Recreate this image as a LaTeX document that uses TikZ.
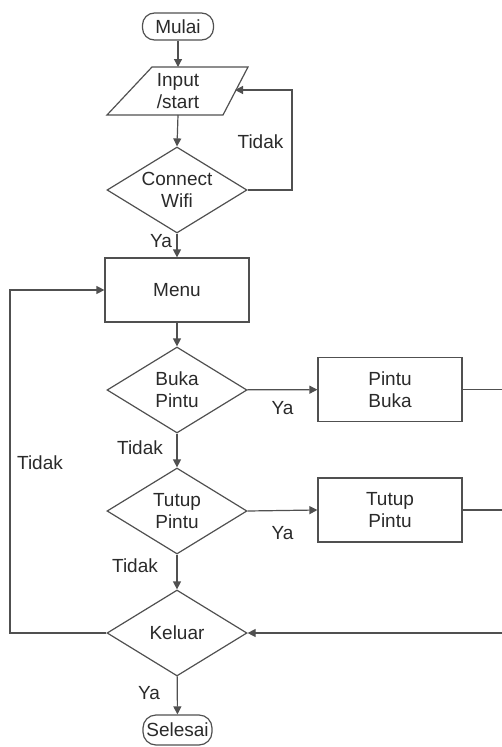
\documentclass[tikz,border=0pt]{standalone}
\usepackage{fontspec}
\setmainfont{Liberation Sans}
\usetikzlibrary{shapes.geometric,arrows.meta}
\definecolor{txt}{HTML}{2A2A2A}
\definecolor{ln}{HTML}{505050}
\begin{document}
\begin{tikzpicture}[x=1pt,y=-1pt,
 every node/.style={font=\fontsize{19}{22}\selectfont, text=txt},
 line/.style={draw=ln, line width=1.2pt},
 arr/.style={line, -{Triangle[length=8pt,width=8pt]}},
 term/.style={draw=ln, line width=1.2pt, rounded corners=12pt, minimum width=71pt, minimum height=27pt, inner sep=0pt},
 proc/.style={draw=ln, line width=1.2pt, minimum width=144pt, minimum height=64pt, inner sep=0pt, align=center},
 dec/.style={draw=ln, line width=1.2pt, diamond, aspect=1.63, minimum width=140pt, minimum height=86pt, inner sep=0pt, align=center},
 lbl/.style={inner sep=0pt}]
\useasboundingbox (0,0) rectangle (502,747);
% nodes
\node[term] (start) at (178,26.5) {Mulai};
\draw[line] (107,115) -- (152,67) -- (248,67) -- (223,115) -- cycle;
\node[align=center, inner sep=0pt] (inp) at (178,91) {Input\\/start};
\coordinate (inTop) at (178,67);
\coordinate (inBot) at (178,115);
\coordinate (inRight) at (235,90);
\node[dec] (wifi) at (177,190) {Connect\\Wifi};
\node[proc] (menu) at (177,290) {Menu};
\node[dec] (buka) at (177,390) {Buka\\Pintu};
\node[proc] (pbuka) at (390,389.5) {Pintu\\Buka};
\node[dec] (tutup) at (177,511) {Tutup\\Pintu};
\node[proc] (ptutup) at (390,510) {Tutup\\Pintu};
\node[dec] (keluar) at (177,633) {Keluar};
\node[term, minimum width=69pt, minimum height=30pt, rounded corners=13pt] (end) at (177.5,730) {Selesai};
\coordinate (loopR) at (292,190);
\coordinate (leftC) at (10,633);
\coordinate (rb) at (502,389.5);
\coordinate (rt) at (502,510);
\coordinate (rk) at (502,633);
% connectors
\draw[arr] (start) -- (inTop);
\draw[arr] (inBot) -- (wifi.north);
\draw[arr] (wifi.east) -- (loopR) |- (inRight);
\draw[arr] (wifi) -- (menu);
\draw[arr] (menu) -- (buka);
\draw[arr] (buka) -- (pbuka);
\draw[arr] (buka) -- (tutup);
\draw[arr] (tutup.east) -- (ptutup.west);
\draw[arr] (tutup) -- (keluar);
\draw[arr] (keluar) -- (end);
\draw[arr] (keluar.west) -- (leftC) |- (menu.west);
\draw[line] (pbuka) -- (rb);
\draw[line] (ptutup) -- (rt);
\draw[arr] (rk) -- (keluar.east);
% labels
\node[lbl] (l1) at (260.5,142) {Tidak};
\node[lbl] (l2) at (161,241) {Ya};
\node[lbl] (l3) at (282.5,408) {Ya};
\node[lbl] (l4) at (140,448) {Tidak};
\node[lbl] (l5) at (40,463) {Tidak};
\node[lbl] (l6) at (282.5,533) {Ya};
\node[lbl] (l7) at (135,566) {Tidak};
\node[lbl] (l8) at (149,693) {Ya};
\end{tikzpicture}
\end{document}
